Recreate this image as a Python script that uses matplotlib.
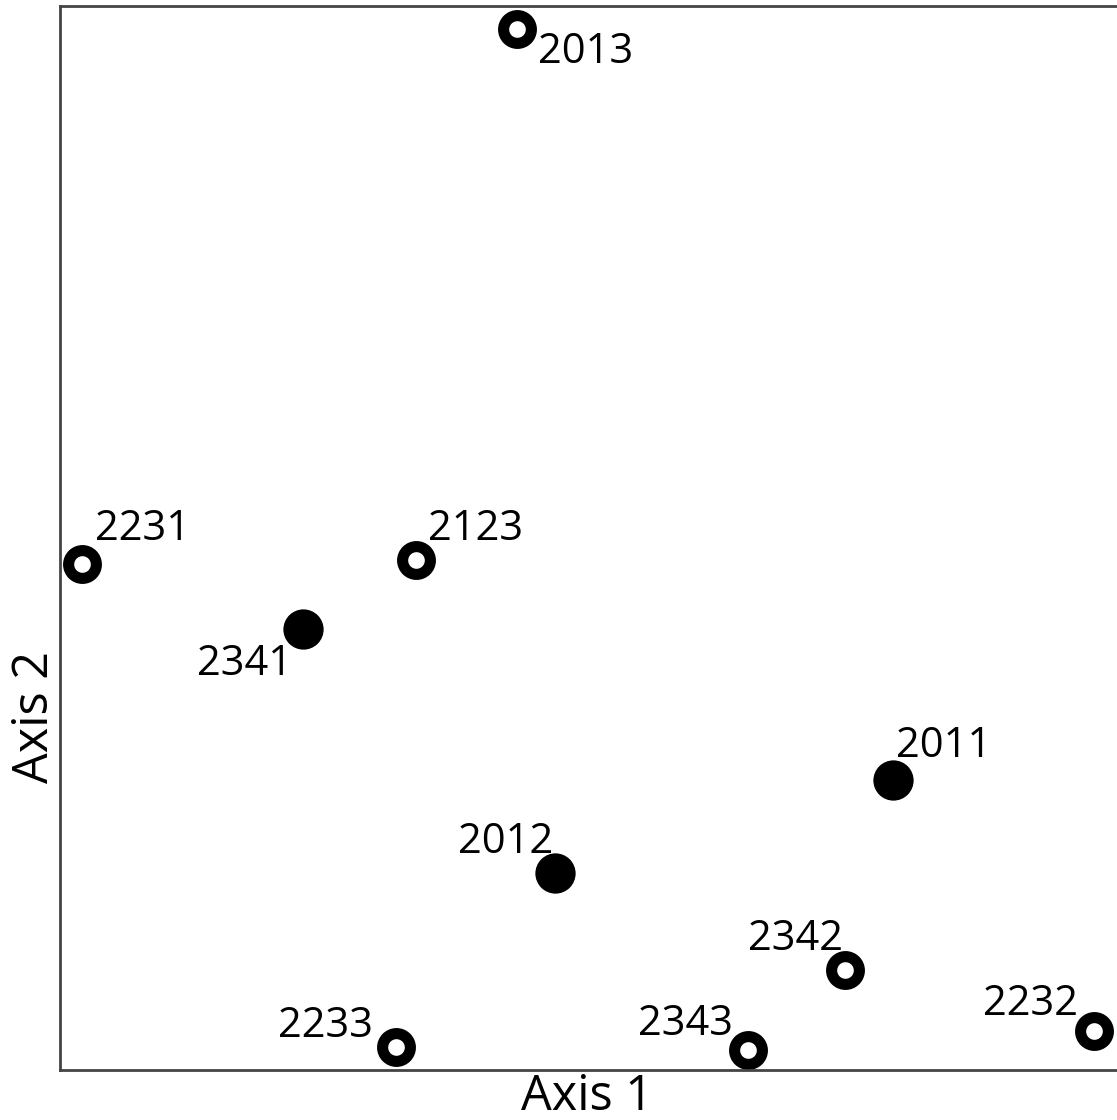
import matplotlib
matplotlib.use('Agg')
import matplotlib.pyplot as plt

plt.rcParams['font.family'] = ['Open Sans', 'DejaVu Sans']

# ordination scores (arbitrary units)
sites   = ['2013', '2231', '2123', '2341', '2011', '2012', '2342', '2233', '2343', '2232']
axis1   = [4.57, 0.22, 3.56, 2.43, 8.33, 4.95, 7.85, 3.36, 6.88, 10.34]
axis2   = [10.41, 5.06, 5.10, 4.41, 2.90, 1.97, 1.00, 0.23, 0.20, 0.39]
filled  = [False, False, False, True, True, True, False, False, False, False]

# label offsets in points (dx, dy) and alignment
lab_dx  = [15, 9.4, 8.6, -8, 2, -1.4, -1.4, -16.5, -11, -11.5]
lab_dy  = [-24.5, 17, 14.4, -33, 16.5, 14.4, 14.4, 7.2, 10.8, 11.5]
lab_ha  = ['left', 'left', 'left', 'right', 'left', 'right', 'right', 'right', 'right', 'right']

W, H = 1117, 1120
fig = plt.figure(figsize=(W / 100, H / 100), dpi=100)
ax = fig.add_axes([60 / W, 50 / H, (1119 - 60) / W, (1070 - 6) / H])

for x, y, f in zip(axis1, axis2, filled):
    if f:
        ax.plot(x, y, 'o', ms=29, color='black', mew=0)
    else:
        ax.plot(x, y, 'o', ms=20, mfc='white', mec='black', mew=8)

for s, x, y, dx, dy, ha in zip(sites, axis1, axis2, lab_dx, lab_dy, lab_ha):
    ax.annotate(s, (x, y), xytext=(dx, dy), textcoords='offset points',
                ha=ha, va='baseline', fontsize=30)

ax.set_xlim(0, 10.59)
ax.set_ylim(0, 10.64)
ax.set_xticks([])
ax.set_yticks([])
for sp in ax.spines.values():
    sp.set_color('#444444')
    sp.set_linewidth(2)

fig.text(587 / W, 1 - 1110 / H, 'Axis 1', ha='center', va='baseline', fontsize=35)
fig.text(35 / W, 1 - 717 / H, 'Axis 2', ha='center', va='center', rotation=90, fontsize=35)

fig.savefig('out.png', dpi=100)
